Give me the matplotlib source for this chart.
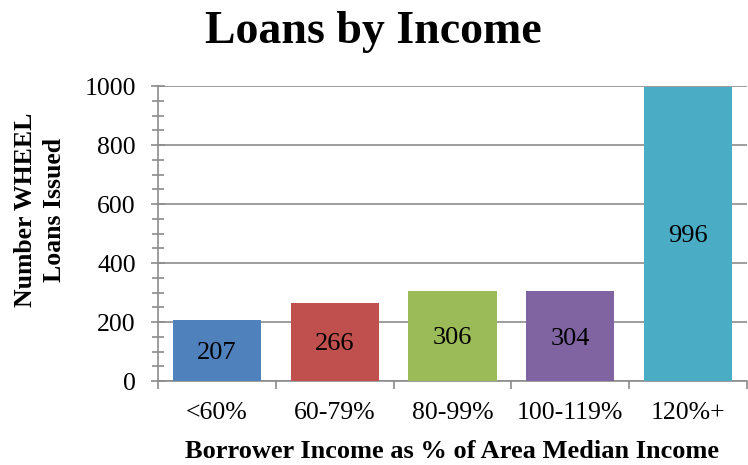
import matplotlib
matplotlib.use("Agg")
import matplotlib.pyplot as plt
from matplotlib.ticker import MultipleLocator

categories = ["<60%", "60-79%", "80-99%", "100-119%", "120%+"]
values = [207, 266, 306, 304, 996]
colors = ["#4F81BD", "#C0504D", "#9BBB59", "#8064A2", "#4BACC6"]

plt.rcParams['font.family'] = ['Liberation Serif', 'DejaVu Serif']

fig = plt.figure(figsize=(7.48, 4.65), dpi=100)
ax = fig.add_axes([0.2112, 0.1806, 0.7875, 0.6344])

x = list(range(len(categories)))
ax.bar(x, values, width=0.75, color=colors, zorder=3)
for xi, v in zip(x, values):
    ax.text(xi, v / 2 - 8, str(v), ha='center', va='center', fontsize=19, zorder=4)

ax.set_xlim(-0.5, len(categories) - 0.5)
ax.set_ylim(0, 1000)
ax.yaxis.set_major_locator(MultipleLocator(200))
ax.yaxis.set_minor_locator(MultipleLocator(50))
ax.grid(axis='y', which='major', color='#8c8c8c', linewidth=1.2, zorder=0)

ax.set_xticks([i - 0.5 for i in range(len(categories) + 1)], minor=True)
ax.set_xticks(x)
ax.set_xticklabels(categories, fontsize=18.5)
ax.tick_params(axis='x', which='major', length=0, pad=15)
ax.tick_params(axis='x', which='minor', length=6, width=1.2, color='#8c8c8c', direction='out')
ax.tick_params(axis='y', which='major', length=10, width=1.2, color='#8c8c8c', direction='inout', labelsize=18.5, pad=11)
ax.tick_params(axis='y', which='minor', length=8, width=1.2, color='#8c8c8c', direction='inout')

for s in ['top', 'right']:
    ax.spines[s].set_visible(False)
for s in ['left', 'bottom']:
    ax.spines[s].set_color('#8c8c8c')
    ax.spines[s].set_linewidth(1.2)

fig.text(0.6043, 1 - 458 / 465, "Borrower Income as % of Area Median Income",
         ha='center', va='baseline', fontsize=19, fontweight='bold')
fig.text(0.0535, 1 - 210 / 465, "Number WHEEL\nLoans Issued", rotation=90,
         ha='center', va='center', fontsize=18.5, fontweight='bold', linespacing=1.35,
         multialignment='center')

fig.text(0.4993, 1 - 43 / 465, "Loans by Income", ha='center', va='baseline',
         fontsize=33, fontweight='bold')

fig.savefig("out.png", dpi=100)
